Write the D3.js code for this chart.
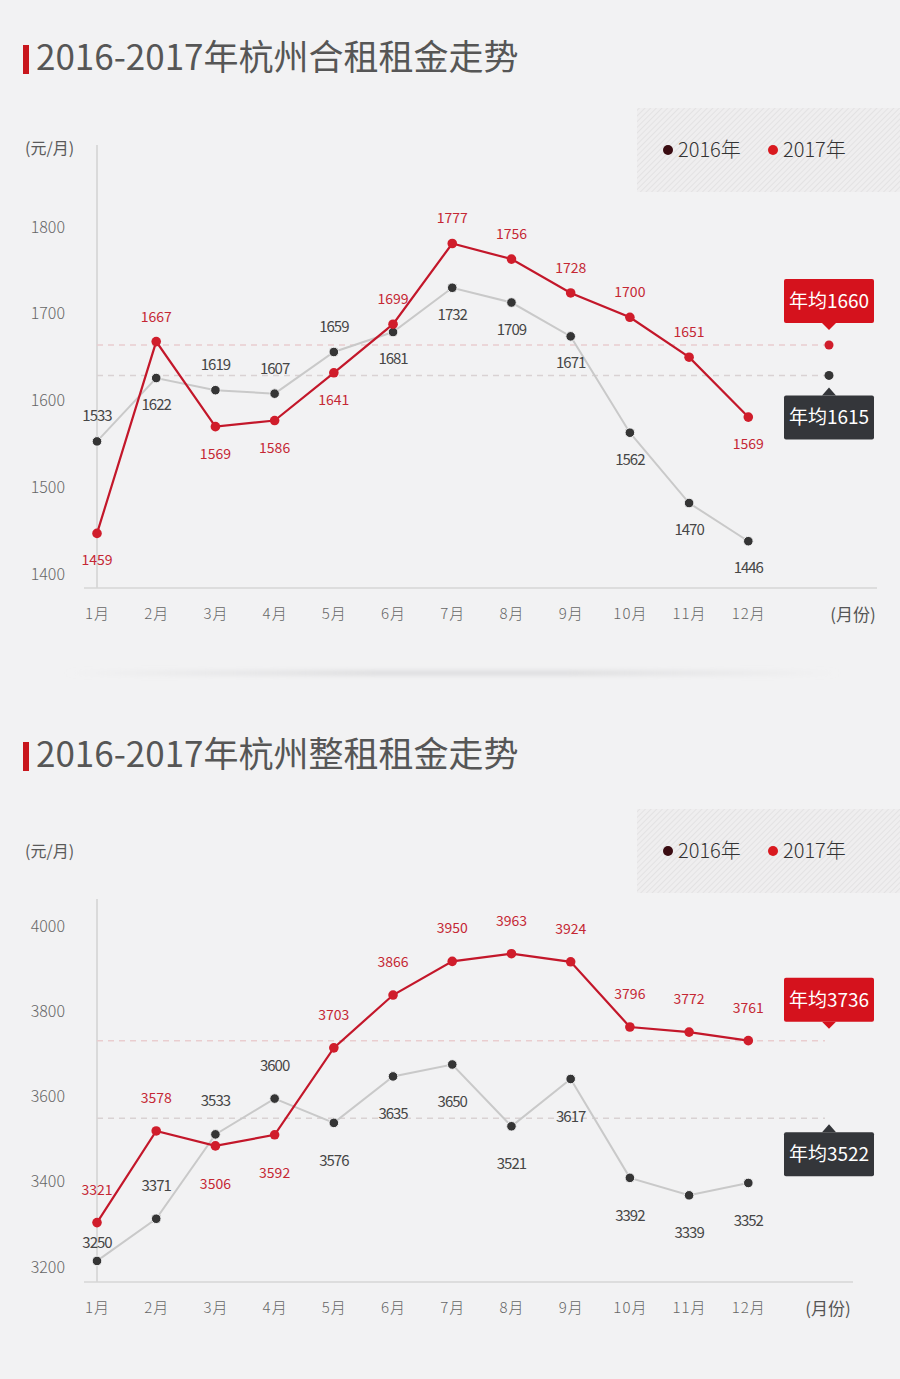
<!DOCTYPE html>
<html>
<meta charset="utf-8">
<head>
<title>2016-2017年杭州租金走势</title>
<script src="https://cdnjs.cloudflare.com/ajax/libs/d3/7.8.5/d3.min.js"></script>
<style>
  body { margin: 0; background: #f2f2f3; }
  svg text { font-family: "Noto Sans CJK SC", Roboto, sans-serif; }
</style>
</head>
<body>
<script>

// ---- data (labels as printed) ----
const months = ["1月", "2月", "3月", "4月", "5月", "6月", "7月", "8月", "9月", "10月", "11月", "12月"];
const years = ["2016年", "2017年"];

// 合租
const sharedTicks = [1400, 1500, 1600, 1700, 1800];
const shared2016 = [1553, 1626, 1612, 1608, 1656, 1679, 1730, 1713, 1674, 1563, 1482, 1438];
const shared2017 = [1447, 1668, 1570, 1577, 1632, 1688, 1781, 1763, 1724, 1696, 1650, 1581];
const shared2016Labels = ["1533", "1622", "1619", "1607", "1659", "1681", "1732", "1709", "1671", "1562", "1470", "1446"];
const shared2017Labels = ["1459", "1667", "1569", "1586", "1641", "1699", "1777", "1756", "1728", "1700", "1651", "1569"];
// label side: u = above, d = below, n = just above
const shared2016Side = ["u", "d", "u", "u", "u", "d", "d", "d", "d", "d", "d", "d"];
const shared2017Side = ["d", "u", "d", "d", "d", "u", "u", "u", "u", "u", "u", "d"];
const sharedAvg = [1629, 1664];
const sharedAvgLabels = ["年均1615", "年均1660"];

// 整租
const wholeTicks = [3200, 3400, 3600, 3800, 4000];
const whole2016 = [3214, 3313, 3511, 3595, 3538, 3647, 3675, 3530, 3641, 3409, 3368, 3397];
const whole2017 = [3304, 3519, 3484, 3510, 3714, 3838, 3917, 3935, 3916, 3763, 3751, 3731];
const whole2016Labels = ["3250", "3371", "3533", "3600", "3576", "3635", "3650", "3521", "3617", "3392", "3339", "3352"];
const whole2017Labels = ["3321", "3578", "3506", "3592", "3703", "3866", "3950", "3963", "3924", "3796", "3772", "3761"];
const whole2016Side = ["n", "u", "u", "u", "d", "d", "d", "d", "d", "d", "d", "d"];
const whole2017Side = ["u", "u", "d", "d", "u", "u", "u", "u", "u", "u", "u", "u"];
const wholeAvg = [3549, 3731];
const wholeAvgLabels = ["年均3522", "年均3736"];

// ---- page ----
const width = 900,
    height = 1379;
const bg = "#f2f2f3";
const red = "#c3172a",
    redDot = "#d01d2b",
    grey = "#c9c9c9",
    darkDot = "#353535";

const svg = d3.select("body")
    .append("svg")
    .attr("width", width)
    .attr("height", height);

svg.append("rect")
    .attr("width", width)
    .attr("height", height)
    .attr("fill", bg);

const defs = svg.append("defs");

// diagonal hatching behind the legends
const hatch = defs.append("pattern")
    .attr("id", "hatch")
    .attr("patternUnits", "userSpaceOnUse")
    .attr("width", 4)
    .attr("height", 4)
    .attr("patternTransform", "rotate(45)");
hatch.append("rect")
    .attr("width", 4)
    .attr("height", 4)
    .attr("fill", "#efeeef");
hatch.append("line")
    .attr("x1", 0).attr("y1", 0)
    .attr("x2", 0).attr("y2", 4)
    .attr("stroke", "#dad9da")
    .attr("stroke-width", 1.1);

// soft shadow between the two charts
const blur = defs.append("filter").attr("id", "blur")
    .attr("x", "-10%").attr("y", "-300%").attr("width", "120%").attr("height", "700%");
blur.append("feGaussianBlur").attr("stdDeviation", 2.5);
const fade = defs.append("linearGradient").attr("id", "fade");
fade.append("stop").attr("offset", "0%").attr("stop-color", "#d6d6d8").attr("stop-opacity", 0);
fade.append("stop").attr("offset", "40%").attr("stop-color", "#d6d6d8").attr("stop-opacity", 1);
fade.append("stop").attr("offset", "65%").attr("stop-color", "#d6d6d8").attr("stop-opacity", 1);
fade.append("stop").attr("offset", "100%").attr("stop-color", "#d6d6d8").attr("stop-opacity", 0);
svg.append("rect")
    .attr("x", 65)
    .attr("y", 671)
    .attr("width", 775)
    .attr("height", 4)
    .attr("fill", "url(#fade)")
    .attr("filter", "url(#blur)");

const x = d3.scalePoint()
    .domain(months)
    .range([97, 748.3]);
const avgX = 829;

function drawChart(c) {
    const g = svg.append("g");

    const y = d3.scaleLinear()
        .domain(d3.extent(c.ticks))
        .range(c.yRange);

    function labelY(v, side) {
        if (side === "u") return y(v) - c.gapUp;
        if (side === "n") return y(v) - 13;
        return y(v) + c.gapDown;
    }

    // title with red bar
    g.append("rect")
        .attr("x", 23)
        .attr("y", c.titleY - 25)
        .attr("width", 6)
        .attr("height", 29)
        .attr("fill", "#c8161d");
    g.append("text")
        .attr("x", 36)
        .attr("y", c.titleY)
        .text(c.title)
        .attr("font-size", "35px")
        .attr("font-weight", 400)
        .attr("fill", "#565656");

    // unit
    g.append("text")
        .attr("x", 25)
        .attr("y", c.unitY)
        .text("(元/月)")
        .attr("font-size", "16px")
        .attr("fill", "#5a5a5a");

    // legend
    g.append("rect")
        .attr("x", 637)
        .attr("y", c.legendY - 42)
        .attr("width", 263)
        .attr("height", 84)
        .attr("fill", "url(#hatch)");
    const legend = g.selectAll(".legend")
        .data(years)
        .enter()
        .append("g")
        .attr("transform", (d, i) => `translate(${668 + i * 105},${c.legendY})`);
    legend.append("circle")
        .attr("r", 5)
        .attr("fill", (d, i) => i === 0 ? "#3a0c12" : "#d9191f");
    legend.append("text")
        .attr("x", 10)
        .attr("y", 7)
        .text(d => d)
        .attr("font-size", "20px")
        .attr("font-weight", 300)
        .attr("fill", "#333");

    // axes
    g.append("line")
        .attr("x1", 97).attr("x2", 97)
        .attr("y1", c.axisTop).attr("y2", c.axisY)
        .attr("stroke", "#d2d2d2")
        .attr("stroke-width", 1.5);
    g.append("line")
        .attr("x1", 84).attr("x2", c.axisEnd)
        .attr("y1", c.axisY).attr("y2", c.axisY)
        .attr("stroke", "#d6d6d6")
        .attr("stroke-width", 1.5);

    const yAxis = g.append("g")
        .attr("transform", "translate(65,0)")
        .call(d3.axisLeft(y).tickValues(c.ticks).tickFormat(d3.format("d")).tickSize(0).tickPadding(0));
    yAxis.select(".domain").remove();
    yAxis.selectAll("text")
        .attr("font-size", "16px")
        .attr("font-weight", 300)
        .attr("fill", "#666");

    const xAxis = g.append("g")
        .attr("transform", `translate(0,${c.axisY})`)
        .call(d3.axisBottom(x).tickSize(0).tickPadding(20));
    xAxis.select(".domain").remove();
    xAxis.selectAll("text")
        .attr("font-size", "15px")
        .attr("font-weight", 300)
        .attr("fill", "#666")
        .attr("letter-spacing", "1px");

    g.append("text")
        .attr("x", c.unitXPos)
        .attr("y", c.axisY + 33)
        .attr("text-anchor", "middle")
        .text("(月份)")
        .attr("font-size", "17px")
        .attr("fill", "#555");

    // average dashed lines
    g.selectAll(".avg")
        .data(c.avg)
        .enter()
        .append("line")
        .attr("x1", 97)
        .attr("x2", c.avgEnd)
        .attr("y1", d => y(d))
        .attr("y2", d => y(d))
        .attr("stroke", (d, i) => i === 0 ? "#d9d2d3" : "#e9cdcf")
        .attr("stroke-width", 1.5)
        .attr("stroke-dasharray", "6,5");

    if (c.avgDots) {
        g.selectAll(".avgdot")
            .data(c.avg)
            .enter()
            .append("circle")
            .attr("cx", avgX)
            .attr("cy", d => y(d))
            .attr("r", 4.5)
            .attr("fill", (d, i) => i === 0 ? darkDot : redDot);
    }

    // lines
    const line = d3.line()
        .x((d, i) => x(months[i]))
        .y(d => y(d));
    g.append("path")
        .datum(c.s16)
        .attr("d", line)
        .attr("fill", "none")
        .attr("stroke", grey)
        .attr("stroke-width", 2);
    g.append("path")
        .datum(c.s17)
        .attr("d", line)
        .attr("fill", "none")
        .attr("stroke", red)
        .attr("stroke-width", 2.2);

    // dots
    g.selectAll(".d16")
        .data(c.s16)
        .enter()
        .append("circle")
        .attr("cx", (d, i) => x(months[i]))
        .attr("cy", d => y(d))
        .attr("r", 4.8)
        .attr("fill", darkDot)
        .attr("stroke", bg)
        .attr("stroke-width", 1);
    g.selectAll(".d17")
        .data(c.s17)
        .enter()
        .append("circle")
        .attr("cx", (d, i) => x(months[i]))
        .attr("cy", d => y(d))
        .attr("r", 4.8)
        .attr("fill", redDot);

    // value labels
    g.selectAll(".l16")
        .data(c.s16)
        .enter()
        .append("text")
        .attr("x", (d, i) => x(months[i]))
        .attr("y", (d, i) => labelY(d, c.side16[i]))
        .attr("text-anchor", "middle")
        .text((d, i) => c.l16[i])
        .attr("font-family", "Roboto, sans-serif")
        .attr("font-size", "15px")
        .attr("letter-spacing", "-1px")
        .attr("fill", "#464646");
    g.selectAll(".l17")
        .data(c.s17)
        .enter()
        .append("text")
        .attr("x", (d, i) => x(months[i]))
        .attr("y", (d, i) => labelY(d, c.side17[i]))
        .attr("text-anchor", "middle")
        .text((d, i) => c.l17[i])
        .attr("font-family", "Roboto, sans-serif")
        .attr("font-size", "14px")
        .attr("fill", "#c52733");

    // average callouts
    const cx = avgX;
    const redY = y(c.avg[1]) - c.calloutGap;
    g.append("rect")
        .attr("x", cx - 45)
        .attr("y", redY - 44)
        .attr("width", 90)
        .attr("height", 44)
        .attr("rx", 2)
        .attr("fill", "#d5121d");
    g.append("path")
        .attr("d", `M${cx - 7},${redY} L${cx + 7},${redY} L${cx},${redY + 7} Z`)
        .attr("fill", "#d5121d");
    g.append("text")
        .attr("x", cx)
        .attr("y", redY - 15)
        .attr("text-anchor", "middle")
        .text(c.avgLabels[1])
        .attr("font-size", "19px")
        .attr("fill", "#fff");

    const darkY = y(c.avg[0]) + c.calloutGap2;
    g.append("rect")
        .attr("x", cx - 45)
        .attr("y", darkY)
        .attr("width", 90)
        .attr("height", 44)
        .attr("rx", 2)
        .attr("fill", "#34363a");
    g.append("path")
        .attr("d", `M${cx - 7},${darkY} L${cx + 7},${darkY} L${cx},${darkY - 8} Z`)
        .attr("fill", "#34363a");
    g.append("text")
        .attr("x", cx)
        .attr("y", darkY + 29)
        .attr("text-anchor", "middle")
        .text(c.avgLabels[0])
        .attr("font-size", "19px")
        .attr("fill", "#fff");
}

drawChart({
    title: "2016-2017年杭州合租租金走势",
    titleY: 70,
    unitY: 154,
    legendY: 150,
    axisTop: 145,
    axisY: 588,
    axisEnd: 877,
    avgEnd: avgX,
    unitXPos: 853,
    ticks: sharedTicks,
    yRange: [574.2, 227],
    s16: shared2016, s17: shared2017,
    l16: shared2016Labels, l17: shared2017Labels,
    side16: shared2016Side, side17: shared2017Side,
    gapUp: 20, gapDown: 32,
    avg: sharedAvg, avgLabels: sharedAvgLabels,
    avgDots: true,
    calloutGap: 22,
    calloutGap2: 20
});

drawChart({
    title: "2016-2017年杭州整租租金走势",
    titleY: 767,
    unitY: 857,
    legendY: 851,
    axisTop: 899,
    axisY: 1282,
    axisEnd: 853,
    avgEnd: 825,
    unitXPos: 828,
    ticks: wholeTicks,
    yRange: [1266.9, 926],
    s16: whole2016, s17: whole2017,
    l16: whole2016Labels, l17: whole2017Labels,
    side16: whole2016Side, side17: whole2017Side,
    gapUp: 28, gapDown: 43,
    avg: wholeAvg, avgLabels: wholeAvgLabels,
    avgDots: false,
    calloutGap: 19,
    calloutGap2: 14
});

</script>

</body>
</html>
